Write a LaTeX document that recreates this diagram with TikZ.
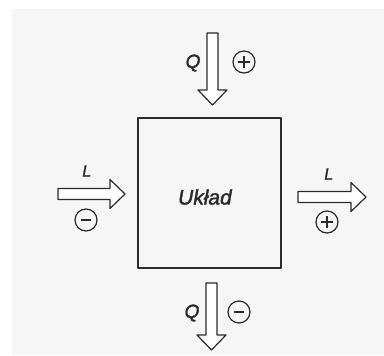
\documentclass[tikz,border=0pt]{standalone}
\usepackage{fontspec}
\newfontfamily\handfont[FakeBold=1.6,FakeSlant=0.18]{Liberation Sans}
\usetikzlibrary{calc}
\definecolor{paper}{HTML}{F6F6F6}
\definecolor{ink}{HTML}{2A2A2A}
\tikzset{
  x=1pt, y=-1pt,
  ink line/.style={draw=ink, line width=1.2pt, line join=round},
  blockarrow/.style={ink line, fill=white},
  sign/.style={circle, ink line, minimum size=22pt, inner sep=0pt},
  lbl/.style={text=ink, font=\handfont\fontsize{16}{16}\selectfont, inner sep=0pt},
}
% block arrow: #1 start point, #2 angle, #3 total length
\newcommand\hollowarrow[3]{%
  \begin{scope}[shift={#1}, rotate=#2]
    \draw[blockarrow] (0,-5.5) -- ({#3-15},-5.5) -- ({#3-15},-14.5) -- (#3,0)
      -- ({#3-15},14.5) -- ({#3-15},5.5) -- (0,5.5) -- cycle;
  \end{scope}}
\begin{document}
\begin{tikzpicture}
  \useasboundingbox (0,0) rectangle (384,356);
  \fill[paper] (12,9) rectangle (384,355);

  % the system
  \node[ink line, minimum width=143pt, minimum height=150pt, inner sep=0pt] (sys) at (209.5,193) {};
  \node[lbl, font=\handfont\fontsize{21}{21}\selectfont] (name) at (204,197) {Układ};

  % heat in / heat out
  \hollowarrow{(212.5,33)}{-90}{72}
  \hollowarrow{(211.5,283)}{-90}{67}
  \node[lbl, font=\handfont\fontsize{19}{19}\selectfont] (qa) at (192,63) {Q};
  \node[lbl, font=\handfont\fontsize{19}{19}\selectfont] (qb) at (191,313) {Q};
  \node[sign] (qplus) at (244,62) {};
  \node[sign] (qminus) at (239,312) {};

  % work in / work out
  \hollowarrow{(58,194)}{0}{67}
  \hollowarrow{(298,197)}{0}{68}
  \node[lbl] (la) at (86,171) {L};
  \node[lbl] (lb) at (328,174) {L};
  \node[sign] (lminus) at (86,220) {};
  \node[sign] (lplus) at (327,222) {};

  % signs inside the circles
  \foreach \c in {qplus,lplus} {
    \draw[ink line] ($(\c)+(-6,0)$) -- ($(\c)+(6,0)$);
    \draw[ink line] ($(\c)+(0,-6)$) -- ($(\c)+(0,6)$);
  }
  \foreach \c in {qminus,lminus} {
    \draw[ink line] ($(\c)+(-5,0)$) -- ($(\c)+(5,0)$);
  }
\end{tikzpicture}
\end{document}
